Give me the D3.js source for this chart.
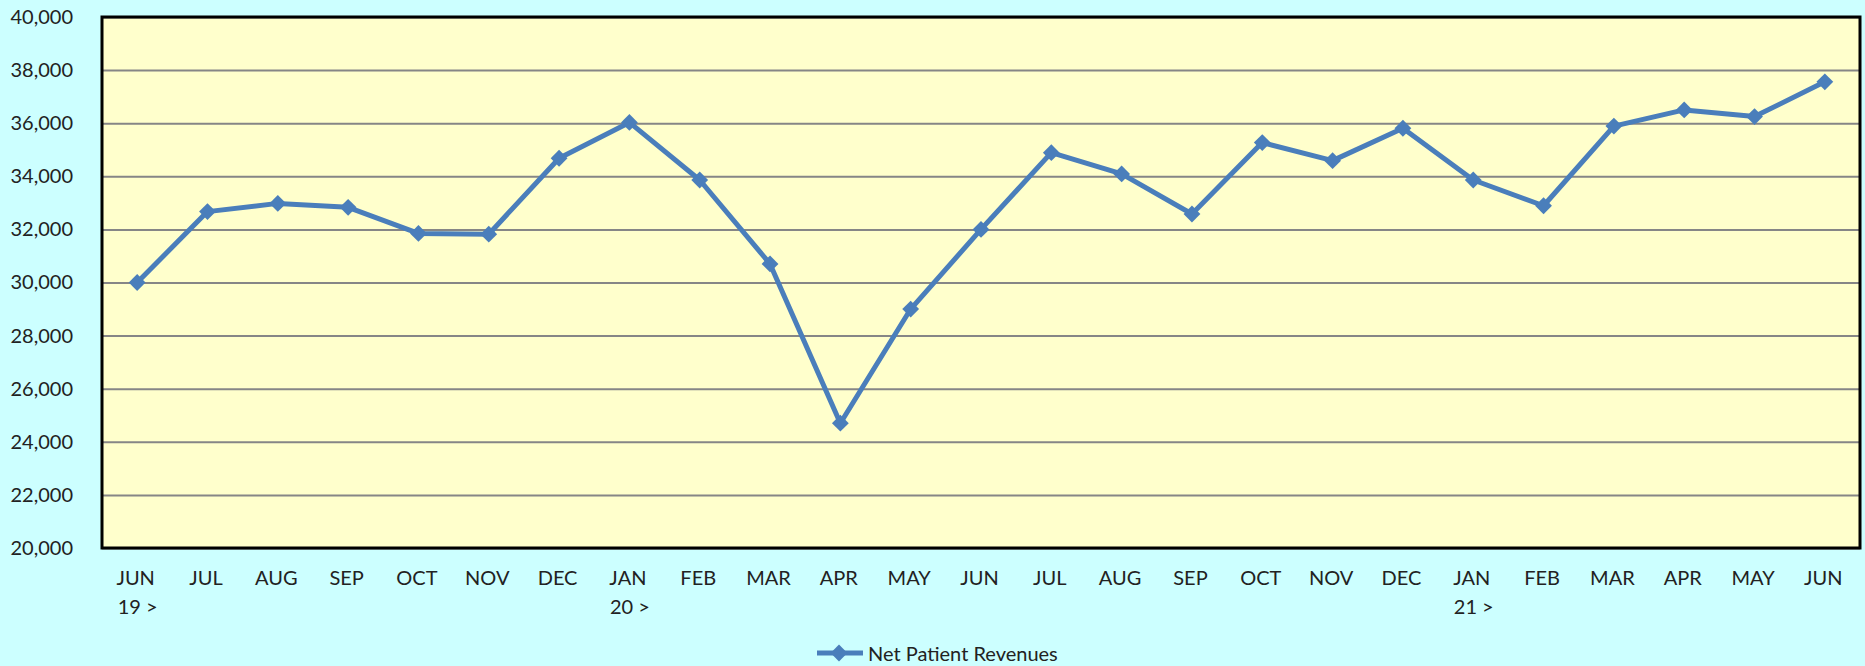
<!DOCTYPE html>
<html>
<head>
<meta charset="utf-8">
<script src="https://cdn.jsdelivr.net/npm/d3@7"></script>
<style>
  html, body { margin: 0; padding: 0; background: #CCFFFF; overflow: hidden; }
  svg { display: block; }
</style>
</head>
<body>
<div id="chart"></div>
<script>
// months on the x axis, year marker under the first month of each year
const months = ["JUN","JUL","AUG","SEP","OCT","NOV","DEC","JAN","FEB","MAR","APR","MAY",
                "JUN","JUL","AUG","SEP","OCT","NOV","DEC","JAN","FEB","MAR","APR","MAY","JUN"];
const yearTags = ["19 >","","","","","","","20 >","","","","",
                  "","","","","","","","21 >","","","","",""];
// net patient revenues
const revenues = [30000, 32670, 32980, 32830, 31850, 31820, 34680, 36030, 33860, 30700, 24700, 29000,
                  32000, 34890, 34090, 32580, 35270, 34590, 35810, 33860, 32890, 35890, 36500, 36250, 37560];
const yTicks = [20000, 22000, 24000, 26000, 28000, 30000, 32000, 34000, 36000, 38000, 40000];
const seriesName = "Net Patient Revenues";

// plot box inside the 1865x666 page
const W = 1865, H = 666;
const margin = {top: 17, right: 5, bottom: 118, left: 102},
    width = W - margin.left - margin.right,
    height = H - margin.top - margin.bottom;

const font = "Lato, 'Liberation Sans', sans-serif";
const blue = "#4A7EBB";

const svg = d3.select("#chart")
    .append("svg")
        .attr("width", W)
        .attr("height", H);

svg.append("rect")
    .attr("width", W).attr("height", H)
    .attr("fill", "#CCFFFF");

const g = svg.append("g")
    .attr("transform", "translate(" + margin.left + "," + margin.top + ")");

// index -> x, so repeated month names stay separate
const xScale = d3.scalePoint()
    .domain(d3.range(months.length))
    .range([0, width])
    .padding(0.5);
const yScale = d3.scaleLinear()
    .domain([20000, 40000])
    .range([height, 0]);

// plot background
g.append("rect")
    .attr("width", width).attr("height", height)
    .attr("fill", "#FFFFCC");

// horizontal gridlines
g.append("g")
    .call(d3.axisLeft(yScale).tickValues(yTicks).tickSize(-width).tickFormat(""))
    .call(s => s.select(".domain").remove())
    .selectAll("line")
        .attr("stroke", "#868686")
        .attr("stroke-width", 2);

// y axis labels
g.append("g")
    .call(d3.axisLeft(yScale).tickValues(yTicks).tickSize(0).tickPadding(29).tickFormat(d3.format(",")))
    .call(s => s.select(".domain").remove())
    .selectAll("text")
        .attr("font-family", font)
        .attr("font-size", "20px")
        .attr("fill", "#222");

// x axis labels, month on top and year tag below
const xAxis = g.append("g")
    .attr("transform", "translate(0," + height + ")")
    .call(d3.axisBottom(xScale).tickSize(0).tickFormat(""));
xAxis.select(".domain").remove();
xAxis.selectAll(".tick").each(function(i) {
    const t = d3.select(this).append("text")
        .attr("font-family", font)
        .attr("font-size", "20px")
        .attr("fill", "#222")
        .attr("text-anchor", "middle");
    t.append("tspan").attr("x", -2).attr("y", 37).text(months[i]);
    if (yearTags[i]) t.append("tspan").attr("x", 0).attr("y", 66).text(yearTags[i]);
});

// the line
const valueline = d3.line()
    .x((d, i) => xScale(i))
    .y(d => yScale(d));

g.append("path")
    .datum(revenues)
    .attr("d", valueline)
    .attr("fill", "none")
    .attr("stroke", blue)
    .attr("stroke-width", 5)
    .attr("stroke-linejoin", "round");

const diamond = d3.symbol().type(d3.symbolDiamond2).size(180);
g.selectAll(".pt")
    .data(revenues)
    .join("path")
        .attr("class", "pt")
        .attr("transform", (d, i) => "translate(" + xScale(i) + "," + yScale(d) + ")")
        .attr("d", diamond)
        .attr("fill", blue);

// frame
g.append("rect")
    .attr("width", width).attr("height", height)
    .attr("fill", "none")
    .attr("stroke", "#000")
    .attr("stroke-width", 3);

// legend
const leg = svg.append("g").attr("transform", "translate(817,653)");
leg.append("line")
    .attr("x1", 0).attr("x2", 46)
    .attr("stroke", blue).attr("stroke-width", 5);
leg.append("path")
    .attr("transform", "translate(22,0)")
    .attr("d", diamond)
    .attr("fill", blue);
leg.append("text")
    .attr("x", 51).attr("y", 8)
    .attr("font-family", font)
    .attr("font-size", "20px")
    .attr("fill", "#222")
    .text(seriesName);
</script>
</body>
</html>
